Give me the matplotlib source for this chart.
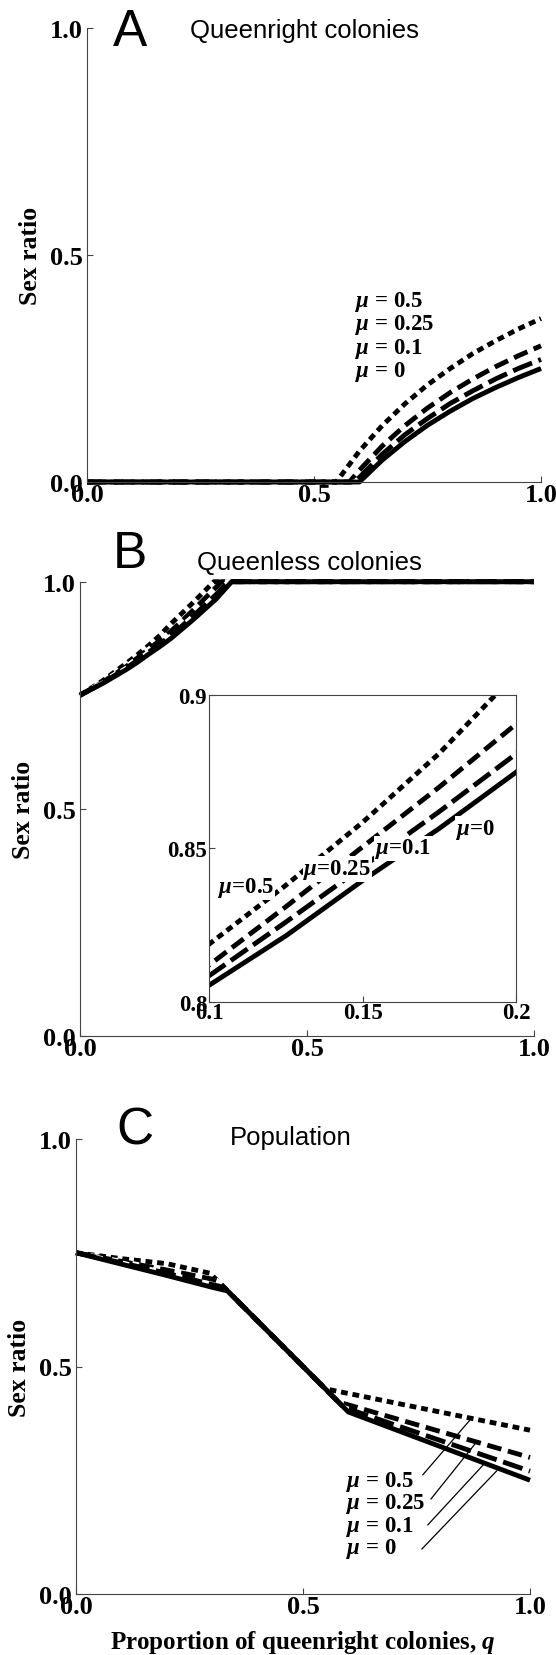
import matplotlib
matplotlib.use("Agg")
import matplotlib.pyplot as plt

# ---- data ----
# A: queenright colonies sex ratio
qA_m0 = [0.0, 0.60, 0.65, 0.70, 0.75, 0.80, 0.85, 0.90, 0.95, 1.00]
rA_m0 = [0.0, 0.0, 0.048, 0.089, 0.125, 0.156, 0.184, 0.208, 0.230, 0.250]
qA_m01 = [0.0, 0.59, 0.65, 0.70, 0.75, 0.80, 0.85, 0.90, 0.95, 1.00]
rA_m01 = [0.0, 0.0, 0.061, 0.104, 0.140, 0.173, 0.201, 0.227, 0.250, 0.270]
qA_m025 = [0.0, 0.578, 0.60, 0.65, 0.70, 0.75, 0.80, 0.85, 0.90, 0.95, 1.00]
rA_m025 = [0.0, 0.0, 0.026, 0.079, 0.124, 0.163, 0.197, 0.227, 0.254, 0.278, 0.300]
qA_m05 = [0.0, 0.549, 0.60, 0.65, 0.70, 0.75, 0.80, 0.85, 0.90, 0.95, 1.00]
rA_m05 = [0.0, 0.0, 0.068, 0.124, 0.172, 0.214, 0.250, 0.283, 0.311, 0.337, 0.360]

# B: queenless colonies sex ratio
qB_m0 = [0.0, 0.05, 0.1, 0.125, 0.15, 0.175, 0.2, 0.25, 0.3, 0.334, 1.0]
rB_m0 = [0.75, 0.776, 0.8054, 0.8215, 0.8395, 0.8565, 0.8748, 0.917, 0.962, 1.0, 1.0]
qB_m01 = [0.0, 0.05, 0.1, 0.125, 0.15, 0.175, 0.2, 0.25, 0.3, 0.326, 1.0]
rB_m01 = [0.75, 0.777, 0.8085, 0.826, 0.844, 0.862, 0.8808, 0.925, 0.972, 1.0, 1.0]
qB_m025 = [0.0, 0.05, 0.1, 0.125, 0.15, 0.175, 0.2, 0.25, 0.3, 0.311, 1.0]
rB_m025 = [0.75, 0.779, 0.812, 0.831, 0.8505, 0.870, 0.8905, 0.938, 0.988, 1.0, 1.0]
qB_m05 = [0.0, 0.05, 0.1, 0.125, 0.15, 0.175, 0.2, 0.25, 0.295, 1.0]
rB_m05 = [0.75, 0.782, 0.8188, 0.838, 0.8585, 0.881, 0.907, 0.955, 1.0, 1.0]

# C: population sex ratio
qC_m0 = [0.0, 0.1, 0.2, 0.3, 0.334, 0.6, 1.0]
rC_m0 = [0.75, 0.725, 0.700, 0.674, 0.666, 0.40, 0.25]
qC_m01 = [0.0, 0.1, 0.2, 0.3, 0.326, 0.59, 1.0]
rC_m01 = [0.75, 0.728, 0.705, 0.680, 0.674, 0.41, 0.27]
qC_m025 = [0.0, 0.1, 0.2, 0.3, 0.311, 0.578, 1.0]
rC_m025 = [0.75, 0.731, 0.712, 0.692, 0.689, 0.422, 0.30]
qC_m05 = [0.0, 0.1, 0.2, 0.295, 0.549, 1.0]
rC_m05 = [0.75, 0.737, 0.726, 0.705, 0.451, 0.36]

mu_labels = ["0.5", "0.25", "0.1", "0"]

# leader lines in panel C (label end -> curve end), order 0.5, 0.25, 0.1, 0
lead_q0 = [0.764, 0.782, 0.775, 0.762]
lead_r0 = [0.262, 0.209, 0.152, 0.099]
lead_q1 = [0.870, 0.883, 0.901, 0.927]
lead_r1 = [0.385, 0.335, 0.288, 0.271]

# inset label anchors (q, ratio), order 0.5, 0.25, 0.1, 0
ins_lab_q = [0.1029, 0.1307, 0.1540, 0.1804]
ins_lab_r = [0.8373, 0.8433, 0.8500, 0.8563]

plt.rcParams["font.family"] = ["Liberation Serif", "DejaVu Serif"]
plt.rcParams["font.weight"] = "bold"
plt.rcParams["mathtext.fontset"] = "custom"
plt.rcParams["mathtext.rm"] = "Liberation Serif:bold"
plt.rcParams["mathtext.it"] = "Liberation Serif:italic:bold"
plt.rcParams["mathtext.bf"] = "Liberation Serif:bold"

W, H = 556, 1656
fig = plt.figure(figsize=(W / 100, H / 100), dpi=100)

LW = 3.5
styles = [
    dict(linestyle=(0, (1.4, 1.0)), gapcolor="white"),   # mu = 0.5
    dict(linestyle=(0, (3.0, 1.4)), gapcolor="white"),   # mu = 0.25
    dict(linestyle=(0, (4.2, 1.4)), gapcolor="white"),   # mu = 0.1
    dict(linestyle="-"),                                  # mu = 0
]
spine_col = "#444444"


def px_axes(left, top, right, bottom):
    return fig.add_axes([left / W, 1 - bottom / H, (right - left) / W, (bottom - top) / H])


def style_main(ax):
    ax.set_xlim(0, 1)
    ax.set_ylim(0, 1)
    for s in ["top", "right"]:
        ax.spines[s].set_visible(False)
    for s in ["left", "bottom"]:
        ax.spines[s].set_color(spine_col)
        ax.spines[s].set_linewidth(0.8)
    ax.set_xticks([0, 0.5, 1.0])
    ax.set_yticks([0, 0.5, 1.0])
    ax.set_xticklabels(["0.0", "0.5", "1.0"])
    ax.set_yticklabels(["0.0", "0.5", "1.0"])
    ax.tick_params(direction="in", length=4, width=0.8, color=spine_col, labelsize=19)
    ax.tick_params(axis="x", pad=1.0)
    ax.tick_params(axis="y", pad=3.0)
    ax.text(-0.124, 0.5, "Sex ratio", transform=ax.transAxes, rotation=90,
            ha="center", va="center", fontsize=18.5, fontweight="bold")


def draw(ax, qs, rs, clip=False):
    for q, r, st in zip(qs, rs, styles):
        ax.plot(q, r, color="black", lw=LW, clip_on=clip, solid_capstyle="butt", **st)


def mu_text(v, spaced=True):
    return r"$\mu$ = " + v if spaced else r"$\mu$=" + v


# ---- panel A ----
axA = px_axes(87, 29, 541, 483)
style_main(axA)
draw(axA, [qA_m05, qA_m025, qA_m01, qA_m0], [rA_m05, rA_m025, rA_m01, rA_m0])
for i, lab in enumerate(mu_labels):
    axA.text(0.59, 0.399 - i * 0.0515, mu_text(lab), ha="left", va="center", fontsize=16.5)
fig.text(113 / W, 1 - 46 / H, "A", family="Liberation Sans", fontweight="normal",
         fontsize=37, va="baseline", ha="left")
fig.text(190 / W, 1 - 38 / H, "Queenright colonies", family="Liberation Sans",
         fontweight="normal", fontsize=18.5, va="baseline", ha="left")

# ---- panel B ----
axB = px_axes(80, 582.7, 534, 1037)
style_main(axB)
draw(axB, [qB_m05, qB_m025, qB_m01, qB_m0], [rB_m05, rB_m025, rB_m01, rB_m0])
fig.text(113 / W, 1 - 568 / H, "B", family="Liberation Sans", fontweight="normal",
         fontsize=37, va="baseline", ha="left")
fig.text(197 / W, 1 - 570 / H, "Queenless colonies", family="Liberation Sans",
         fontweight="normal", fontsize=18.5, va="baseline", ha="left")

# inset
axI = px_axes(209.3, 696, 516, 1002.7)
axI.set_xlim(0.1, 0.2)
axI.set_ylim(0.8, 0.9)
for s in axI.spines.values():
    s.set_color(spine_col)
    s.set_linewidth(0.8)
axI.set_xticks([0.1, 0.15, 0.2])
axI.set_xticklabels(["0.1", "0.15", "0.2"])
axI.set_yticks([0.8, 0.85, 0.9])
axI.set_yticklabels(["0.8", "0.85", "0.9"])
axI.tick_params(direction="in", length=4, width=0.8, color=spine_col, labelsize=16.5)
axI.tick_params(axis="x", pad=0.5)
axI.tick_params(axis="y", pad=1.5)
draw(axI, [qB_m05, qB_m025, qB_m01, qB_m0], [rB_m05, rB_m025, rB_m01, rB_m0], clip=True)
for lab, q, r in zip(mu_labels, ins_lab_q, ins_lab_r):
    axI.text(q, r, mu_text(lab, spaced=False), ha="left", va="center", fontsize=16.5,
             bbox=dict(facecolor="white", edgecolor="none", pad=0.5))

# ---- panel C ----
axC = px_axes(76, 1140, 530, 1595)
style_main(axC)
draw(axC, [qC_m05, qC_m025, qC_m01, qC_m0], [rC_m05, rC_m025, rC_m01, rC_m0])
for x0, y0, x1, y1 in zip(lead_q0, lead_r0, lead_q1, lead_r1):
    axC.plot([x0, x1], [y0, y1], color="black", lw=0.9)
for i, lab in enumerate(mu_labels):
    axC.text(0.5947, 0.2484 - i * 0.0491, mu_text(lab), ha="left", va="center", fontsize=16.5)
axC.text(0.5, -0.105, r"Proportion of queenright colonies, $q$", transform=axC.transAxes,
         ha="center", va="center", fontsize=18, fontweight="bold")
fig.text(116 / W, 1 - 1145 / H, "C", family="Liberation Sans", fontweight="normal",
         fontsize=37, va="baseline", ha="left")
fig.text(230 / W, 1 - 1145 / H, "Population", family="Liberation Sans",
         fontweight="normal", fontsize=18.5, va="baseline", ha="left")

fig.savefig("out.png", dpi=100)
